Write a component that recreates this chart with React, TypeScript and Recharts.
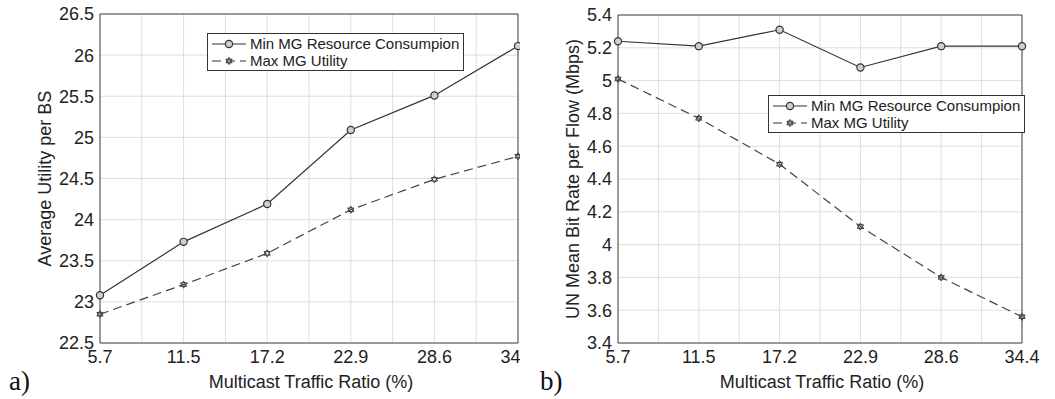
import React from 'react';
import { LineChart, Line, XAxis, YAxis, CartesianGrid, ReferenceLine, Label } from 'recharts';

// multicast traffic ratio (%), one entry per simulated point
const ratios = ['5.7', '11.5', '17.2', '22.9', '28.6', '34.4'];

// a) average utility per BS
const utilMinRes = [23.08, 23.73, 24.19, 25.09, 25.51, 26.11];
const utilMaxUtil = [22.85, 23.21, 23.59, 24.12, 24.49, 24.77];
const utilTicks = [22.5, 23, 23.5, 24, 24.5, 25, 25.5, 26, 26.5];

// b) UN mean bit rate per flow (Mbps)
const rateMinRes = [5.24, 5.21, 5.31, 5.08, 5.21, 5.21];
const rateMaxUtil = [5.01, 4.77, 4.49, 4.11, 3.8, 3.56];
const rateTicks = [3.4, 3.6, 3.8, 4, 4.2, 4.4, 4.6, 4.8, 5, 5.2, 5.4];

const seriesNames = ['Min MG Resource Consumpion', 'Max MG Utility'];

// x runs on the point index so the ratios sit evenly, grid at half steps
const xTicks = [0, 0.5, 1, 1.5, 2, 2.5, 3, 3.5, 4, 4.5, 5];

const FONT = '"Liberation Sans", Arial, sans-serif';
const INK = '#333';
const GRID = '#dedede';
const DASH = '9 5';

const CircleDot = (props: any) => {
  const { cx, cy, index } = props;
  if (cx == null || cy == null) return <g key={index} />;
  return <circle key={index} cx={cx} cy={cy} r={3.6} fill="#cfcfcf" stroke={INK} strokeWidth={1.2} />;
};

const starPath = (cx: number, cy: number, r: number) => {
  const h = r * 0.866;
  return (
    `M${cx},${cy - r}L${cx + h},${cy + r / 2}L${cx - h},${cy + r / 2}Z` +
    `M${cx},${cy + r}L${cx + h},${cy - r / 2}L${cx - h},${cy - r / 2}Z`
  );
};

const StarDot = (props: any) => {
  const { cx, cy, index } = props;
  if (cx == null || cy == null) return <g key={index} />;
  return <path key={index} d={starPath(cx, cy, 3.6)} fill="#e4e4e4" stroke={INK} strokeWidth={0.9} />;
};

const LegendBox = ({ left, top }: { left: number; top: number }) => (
  <div
    style={{
      position: 'absolute',
      left,
      top,
      border: `1.5px solid ${INK}`,
      background: '#fff',
      padding: '1px 4px 1px 4px',
      fontFamily: FONT,
      fontSize: 15,
      lineHeight: '17px',
      color: '#222',
      whiteSpace: 'nowrap',
    }}
  >
    {seriesNames.map((name, k) => (
      <div key={name} style={{ display: 'flex', alignItems: 'center' }}>
        <svg width={34} height={17}>
          <line x1={0} y1={9} x2={34} y2={9} stroke={INK} strokeWidth={1.2} strokeDasharray={k === 0 ? undefined : DASH} />
          {k === 0 ? (
            <circle cx={17} cy={9} r={3.6} fill="#cfcfcf" stroke={INK} strokeWidth={1.2} />
          ) : (
            <path d={starPath(17, 9, 3.6)} fill="#e4e4e4" stroke={INK} strokeWidth={0.9} />
          )}
        </svg>
        <span style={{ marginLeft: 4 }}>{name}</span>
      </div>
    ))}
  </div>
);

type PanelProps = {
  left: number;
  width: number;
  margin: { top: number; right: number; bottom: number; left: number };
  minRes: number[];
  maxUtil: number[];
  ticks: number[];
  yTitle: string;
  yTitleX: number;
  tag: string;
  legend: { left: number; top: number };
};

const Panel = ({ left, width, margin, minRes, maxUtil, ticks, yTitle, yTitleX, tag, legend }: PanelProps) => {
  const data = ratios.map((r, i) => ({ i, ratio: r, minRes: minRes[i], maxUtil: maxUtil[i] }));
  const yMin = ticks[0];
  const yMax = ticks[ticks.length - 1];
  return (
    <div style={{ position: 'absolute', left, top: 0, width, height: 399, overflow: 'hidden' }}>
      <LineChart width={width} height={399} data={data} margin={margin}>
        <CartesianGrid stroke={GRID} strokeWidth={1} />
        <XAxis
          dataKey="i"
          type="number"
          domain={[0, 5]}
          ticks={xTicks}
          interval={0}
          height={30}
          tickLine={false}
          tickSize={2}
          tickMargin={5}
          axisLine={{ stroke: '#444' }}
          tickFormatter={(v: number) => (Number.isInteger(v) ? ratios[v] : '')}
          tick={{ fontSize: 18, fill: '#222', fontFamily: FONT }}
        >
          <Label
            content={({ viewBox }: any) => (
              <text
                x={viewBox.x + viewBox.width / 2 + 2}
                y={viewBox.y + viewBox.height + 9}
                textAnchor="middle"
                dominantBaseline="central"
                fontSize={18}
                fill="#222"
                fontFamily={FONT}
              >
                Multicast Traffic Ratio (%)
              </text>
            )}
          />
        </XAxis>
        <YAxis
          type="number"
          domain={[yMin, yMax]}
          ticks={ticks}
          interval={0}
          width={60}
          tickLine={false}
          tickSize={3}
          tickMargin={3}
          axisLine={{ stroke: '#444' }}
          tick={{ fontSize: 18, fill: '#222', fontFamily: FONT }}
        >
          <Label
            content={({ viewBox }: any) => {
              const cy = viewBox.y + viewBox.height / 2;
              return (
                <text
                  x={yTitleX}
                  y={cy}
                  transform={`rotate(-90 ${yTitleX} ${cy})`}
                  textAnchor="middle"
                  dominantBaseline="central"
                  fontSize={18}
                  fill="#222"
                  fontFamily={FONT}
                >
                  {yTitle}
                </text>
              );
            }}
          />
        </YAxis>
        <ReferenceLine y={yMax} stroke="#444" />
        <ReferenceLine x={5} stroke="#444" />
        <Line
          dataKey="minRes"
          stroke={INK}
          strokeWidth={1.2}
          dot={CircleDot}
          activeDot={false}
          isAnimationActive={false}
        />
        <Line
          dataKey="maxUtil"
          stroke="#444"
          strokeWidth={1.2}
          strokeDasharray={DASH}
          dot={StarDot}
          activeDot={false}
          isAnimationActive={false}
        />
      </LineChart>
      <LegendBox left={legend.left} top={legend.top} />
      <div
        style={{
          position: 'absolute',
          left: tag === 'a)' ? 9 : 20,
          top: 366,
          fontFamily: '"Liberation Serif", "DejaVu Serif", serif',
          fontSize: 27,
          color: '#111',
        }}
      >
        {tag}
      </div>
    </div>
  );
};

export default function App() {
  return (
    <div style={{ position: 'fixed', left: 0, top: 0, width: 1055, height: 399, background: '#fff' }}>
      <Panel
        left={0}
        width={520}
        margin={{ top: 14, right: 2, bottom: 26, left: 40 }}
        minRes={utilMinRes}
        maxUtil={utilMaxUtil}
        ticks={utilTicks}
        yTitle="Average Utility per BS"
        yTitleX={45}
        tag="a)"
        legend={{ left: 207, top: 33 }}
      />
      <Panel
        left={520}
        width={535}
        margin={{ top: 15, right: 33, bottom: 26, left: 38 }}
        minRes={rateMinRes}
        maxUtil={rateMaxUtil}
        ticks={rateTicks}
        yTitle="UN Mean Bit Rate per Flow (Mbps)"
        yTitleX={53}
        tag="b)"
        legend={{ left: 248, top: 95 }}
      />
    </div>
  );
}
